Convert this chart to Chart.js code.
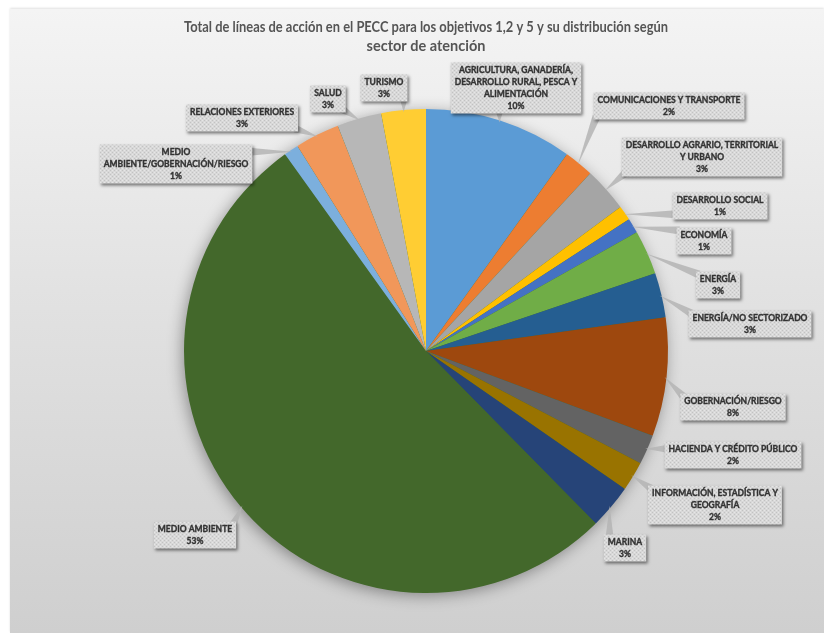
<!DOCTYPE html>
<html>
<head>
<meta charset="utf-8">
<script src="https://cdn.jsdelivr.net/npm/chart.js@4.4.1/dist/chart.umd.min.js"></script>
<style>
  html, body { margin: 0; padding: 0; background: #fff; }
  #wrap { position: relative; width: 824px; height: 633px; overflow: hidden; }
  #panel {
    position: absolute; left: 10px; top: 9px; right: 0; bottom: 0;
    background: linear-gradient(#f4f4f4, #e2e2e2 45%, #cfcfcf);
    box-shadow: 0 -1px 2px rgba(0,0,0,0.12);
  }
  canvas { position: absolute; left: 0; top: 0; }
</style>
</head>
<body>
<div id="wrap">
  <div id="panel"></div>
  <canvas id="pie" width="824" height="633"></canvas>
</div>
<script>
const titleLines = [
  'Total de líneas de acción en el PECC para los objetivos 1,2 y 5 y su distribución según',
  'sector de atención'
];

// sectors, clockwise from 12 o'clock
const sectors = [
  'AGRICULTURA, GANADERÍA, DESARROLLO RURAL, PESCA Y ALIMENTACIÓN',
  'COMUNICACIONES Y TRANSPORTE',
  'DESARROLLO AGRARIO, TERRITORIAL Y URBANO',
  'DESARROLLO SOCIAL',
  'ECONOMÍA',
  'ENERGÍA',
  'ENERGÍA/NO SECTORIZADO',
  'GOBERNACIÓN/RIESGO',
  'HACIENDA Y CRÉDITO PÚBLICO',
  'INFORMACIÓN, ESTADÍSTICA Y GEOGRAFÍA',
  'MARINA',
  'MEDIO AMBIENTE',
  'MEDIO AMBIENTE/GOBERNACIÓN/RIESGO',
  'RELACIONES EXTERIORES',
  'SALUD',
  'TURISMO'
];
const shares = [10, 2, 3, 1, 1, 3, 3, 8, 2, 2, 3, 53, 1, 3, 3, 3];
const pctLabels = ['10%', '2%', '3%', '1%', '1%', '3%', '3%', '8%', '2%', '2%', '3%', '53%', '1%', '3%', '3%', '3%'];

// how each callout breaks its text
const labelLines = [
  ['AGRICULTURA, GANADERÍA,', 'DESARROLLO RURAL, PESCA Y', 'ALIMENTACIÓN'],
  ['COMUNICACIONES Y TRANSPORTE'],
  ['DESARROLLO AGRARIO, TERRITORIAL', 'Y URBANO'],
  ['DESARROLLO SOCIAL'],
  ['ECONOMÍA'],
  ['ENERGÍA'],
  ['ENERGÍA/NO SECTORIZADO'],
  ['GOBERNACIÓN/RIESGO'],
  ['HACIENDA Y CRÉDITO PÚBLICO'],
  ['INFORMACIÓN, ESTADÍSTICA Y', 'GEOGRAFÍA'],
  ['MARINA'],
  ['MEDIO AMBIENTE'],
  ['MEDIO', 'AMBIENTE/GOBERNACIÓN/RIESGO'],
  ['RELACIONES EXTERIORES'],
  ['SALUD'],
  ['TURISMO']
];

const colors = ['#5B9BD5', '#ED7D31', '#A5A5A5', '#FFC000', '#4472C4', '#70AD47', '#255E91', '#9E480E',
                '#636363', '#997300', '#264478', '#43682B', '#7CAFDD', '#F1975A', '#B7B7B7', '#FFCD33'];

// where the callout boxes sit (box centre, canvas px)
const boxAt = [[516, 88], [669, 106], [702, 157], [720, 206], [704, 241], [718, 285], [750, 324], [733, 407],
               [733, 455], [715, 505], [625, 548], [195, 535], [176, 164], [242, 118], [328, 99], [384, 88]];

// dithered grey fill like the excel callouts
function makePattern(ctx) {
  const p = document.createElement('canvas');
  p.width = 4; p.height = 4;
  const pc = p.getContext('2d');
  pc.fillStyle = '#d8d8d8';
  pc.fillRect(0, 0, 4, 4);
  pc.fillStyle = '#c2c2c2';
  pc.fillRect(0, 0, 1, 1);
  pc.fillRect(2, 2, 1, 1);
  pc.fillStyle = '#e6e6e6';
  pc.fillRect(2, 0, 1, 1);
  pc.fillRect(0, 2, 1, 1);
  return ctx.createPattern(p, 'repeat');
}

const pieShadow = {
  id: 'pieShadow',
  beforeDatasetsDraw(chart) {
    const arc = chart.getDatasetMeta(0).data[0];
    if (!arc) return;
    const { x, y, outerRadius } = arc.getProps(['x', 'y', 'outerRadius'], true);
    const ctx = chart.ctx;
    ctx.save();
    ctx.shadowColor = 'rgba(0,0,0,0.4)';
    ctx.shadowBlur = 16;
    ctx.shadowOffsetX = -2;
    ctx.shadowOffsetY = 3;
    ctx.fillStyle = '#43682B';
    ctx.beginPath();
    ctx.arc(x, y, outerRadius - 1, 0, Math.PI * 2);
    ctx.fill();
    ctx.restore();
  }
};

const callouts = {
  id: 'callouts',
  afterDatasetsDraw(chart) {
    const ctx = chart.ctx;
    const arcs = chart.getDatasetMeta(0).data;
    const fill = makePattern(ctx);
    ctx.save();
    ctx.font = 'bold 8.5px Lato';
    ctx.textAlign = 'center';
    ctx.textBaseline = 'middle';

    arcs.forEach((arc, i) => {
      const { x, y, startAngle, endAngle, outerRadius } =
        arc.getProps(['x', 'y', 'startAngle', 'endAngle', 'outerRadius'], true);
      const mid = (startAngle + endAngle) / 2;
      const tipX = x + Math.cos(mid) * (outerRadius - 2);
      const tipY = y + Math.sin(mid) * (outerRadius - 2);

      const lines = labelLines[i].concat(pctLabels[i]);
      const w = Math.max(...lines.map(t => ctx.measureText(t).width)) + 8;
      const h = lines.length * 12 + 3;
      const bx = boxAt[i][0] - w / 2, by = boxAt[i][1] - h / 2;

      // pointer from nearest box point to the slice edge
      const px = Math.min(Math.max(tipX, bx + 3), bx + w - 3);
      const py = Math.min(Math.max(tipY, by + 3), by + h - 3);
      const dx = tipX - px, dy = tipY - py;
      const len = Math.hypot(dx, dy);
      if (len > 4) {
        const nx = -dy / len * 4, ny = dx / len * 4;
        ctx.fillStyle = 'rgba(180,180,180,0.85)';
        ctx.beginPath();
        ctx.moveTo(px + nx, py + ny);
        ctx.lineTo(tipX, tipY);
        ctx.lineTo(px - nx, py - ny);
        ctx.closePath();
        ctx.fill();
      }

      ctx.save();
      ctx.shadowColor = 'rgba(0,0,0,0.5)';
      ctx.shadowBlur = 3;
      ctx.shadowOffsetX = 1.5;
      ctx.shadowOffsetY = 2;
      ctx.fillStyle = fill;
      ctx.fillRect(bx, by, w, h);
      ctx.restore();

      // slightly heavier strokes, the original labels are a dense bold face
      ctx.fillStyle = '#333';
      ctx.strokeStyle = '#333';
      ctx.lineWidth = 0.35;
      lines.forEach((t, k) => {
        ctx.fillText(t, bx + w / 2, by + 8 + k * 12);
        ctx.strokeText(t, bx + w / 2, by + 8 + k * 12);
      });
    });
    ctx.restore();
  }
};

new Chart(document.getElementById('pie'), {
  type: 'pie',
  data: {
    labels: sectors,
    datasets: [{
      data: shares,
      backgroundColor: colors,
      borderWidth: 0
    }]
  },
  options: {
    responsive: false,
    animation: false,
    layout: { padding: { left: 184, right: 156, top: 0, bottom: 40 } },
    plugins: {
      legend: { display: false },
      tooltip: { enabled: false },
      title: {
        display: true,
        text: titleLines,
        color: '#555',
        font: { family: 'Lato', size: 14.5, weight: 'bold', lineHeight: 1.31 },
        padding: { top: 18, bottom: 53 }
      }
    }
  },
  plugins: [pieShadow, callouts]
});
</script>
</body>
</html>
